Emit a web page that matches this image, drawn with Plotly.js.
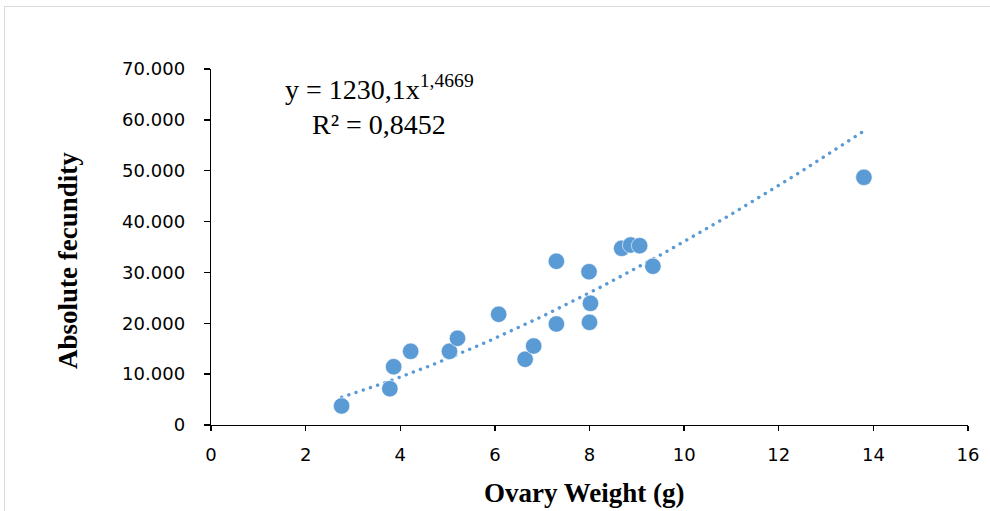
<!DOCTYPE html>
<html>
<head>
<meta charset="utf-8">
<script src="https://cdn.plot.ly/plotly-3.0.1.min.js"></script>
<style>
  html, body { margin: 0; padding: 0; background: #fff; }
  #wrap { position: relative; width: 990px; height: 511px; }
  #chart { width: 990px; height: 511px; }
  #frame { position: absolute; left: 4px; top: 6px; width: 990px; height: 511px;
           border-top: 1px solid #d9d9d9; border-left: 1px solid #d9d9d9; pointer-events: none; }
  .scatterlayer .js-line { stroke-linecap: round; }
</style>
</head>
<body>
<div id="wrap">
  <div id="chart"></div>
  <div id="frame"></div>
</div>
<script>
// Ovary weight (g)
const ovaryWeight = [2.76, 3.78, 3.86, 4.22, 5.04, 5.21, 6.08, 6.64, 6.82, 7.30, 7.30, 7.99, 8.02, 8.00, 8.68, 8.87, 9.06, 9.34, 13.80];
// Absolute fecundity
const fecundity = [3740, 7140, 11460, 14490, 14490, 17050, 21770, 12920, 15530, 32190, 19860, 30140, 23930, 20190, 34740, 35390, 35260, 31210, 48700];

// Power trendline as shown on the chart: y = a * x^b
const trendA = 1230.1;
const trendB = 1.4669;
const trendR2 = '0,8452';

const xTicks = [0, 2, 4, 6, 8, 10, 12, 14, 16];
const yTicks = [0, 10000, 20000, 30000, 40000, 50000, 60000, 70000];

const xMin = Math.min(...ovaryWeight), xMax = Math.max(...ovaryWeight);
const trendX = [], trendY = [];
const nSteps = 100;
for (let i = 0; i <= nSteps; i++) {
  const x = xMin + (xMax - xMin) * i / nSteps;
  trendX.push(x);
  trendY.push(trendA * Math.pow(x, trendB));
}

const blue = '#5B9BD5';

const traces = [
  {
    x: trendX, y: trendY, type: 'scatter', mode: 'lines',
    line: { color: blue, width: 3.4, dash: '0.1px,7.5px' },
    hoverinfo: 'skip', showlegend: false
  },
  {
    x: ovaryWeight, y: fecundity, type: 'scatter', mode: 'markers',
    marker: { color: blue, size: 16.5, line: { color: '#ffffff', width: 0.6 } },
    showlegend: false
  }
];

const serif = 'Liberation Serif, Times New Roman, serif';
const tickFont = { family: 'DejaVu Sans, sans-serif', size: 18, color: '#000' };

const layout = {
  width: 990, height: 511,
  margin: { l: 211, r: 22, t: 69, b: 86, pad: 0 },
  paper_bgcolor: '#fff', plot_bgcolor: '#fff',
  separators: ',.',
  showlegend: false,
  xaxis: {
    range: [0, 16], tickmode: 'array', tickvals: xTicks, ticktext: xTicks.map(String),
    showgrid: false, zeroline: false, showline: true, linecolor: '#000', linewidth: 1.3,
    ticks: 'outside', ticklen: 5, tickwidth: 1.3, tickcolor: '#000',
    tickfont: tickFont, ticklabelstandoff: 8, fixedrange: true
  },
  yaxis: {
    range: [0, 70000], tickmode: 'array', tickvals: yTicks,
    ticktext: yTicks.map(v => v === 0 ? '0' : (v / 1000).toFixed(0) + '.000'),
    showgrid: false, zeroline: false, showline: true, linecolor: '#000', linewidth: 1.3,
    ticks: 'outside', ticklen: 6, tickwidth: 1.3, tickcolor: '#000',
    tickfont: tickFont, ticklabelstandoff: 15, fixedrange: true
  },
  annotations: [
    {
      xref: 'paper', yref: 'paper', x: (379 - 211) / 757, y: 1 - (88 - 69) / 356,
      xanchor: 'center', yanchor: 'middle', showarrow: false,
      text: 'y = ' + String(trendA).replace('.', ',') + 'x<sup>' + String(trendB).replace('.', ',') + '</sup>',
      font: { family: serif, size: 28, color: '#000' }
    },
    {
      xref: 'paper', yref: 'paper', x: (379 - 211) / 757, y: 1 - (124 - 69) / 356,
      xanchor: 'center', yanchor: 'middle', showarrow: false,
      text: 'R² = ' + trendR2,
      font: { family: serif, size: 28, color: '#000' }
    },
    {
      xref: 'paper', yref: 'paper', x: (584 - 211) / 757, y: -(493 - 425) / 356,
      xanchor: 'center', yanchor: 'middle', showarrow: false,
      text: '<b>Ovary Weight (g)</b>',
      font: { family: serif, size: 27, color: '#000' }
    },
    {
      xref: 'paper', yref: 'paper', x: -(211 - 68) / 757, y: 1 - (261 - 69) / 356,
      xanchor: 'center', yanchor: 'middle', showarrow: false, textangle: -90,
      text: '<b>Absolute fecundity</b>',
      font: { family: serif, size: 27, color: '#000' }
    }
  ]
};

Plotly.newPlot('chart', traces, layout, { displayModeBar: false, staticPlot: true });
</script>
</body>
</html>
